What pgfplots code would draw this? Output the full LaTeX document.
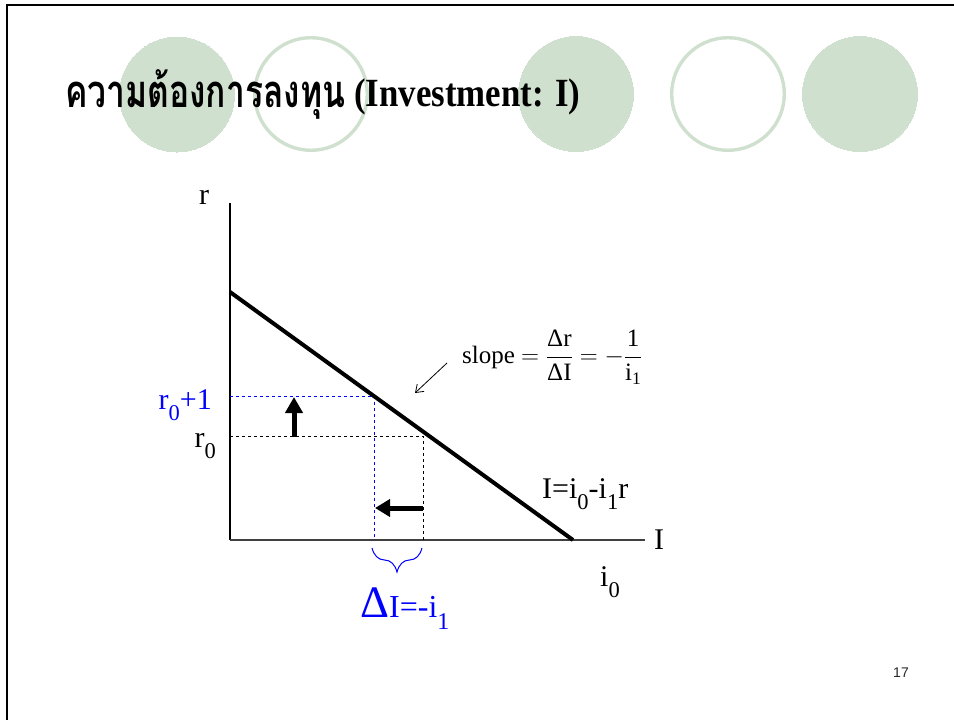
\documentclass[border=0pt]{standalone}
\usepackage{fontspec}
\usepackage{amsmath}
\usepackage{pgfplots}
\pgfplotsset{compat=1.18}
\usetikzlibrary{arrows.meta,decorations.pathreplacing}
\setmainfont{Liberation Serif}
\newfontfamily\thaifont[Script=Thai]{Loma}
\newfontfamily\pagefont{Liberation Sans}
\definecolor{circ}{RGB}{208,224,206}
\definecolor{myblue}{RGB}{0,0,255}
\newcommand{\sub}[1]{\raisebox{-0.38em}{\scalebox{0.75}{#1}}}
\begin{document}
\begin{tikzpicture}
\begin{axis}[
  at={(0,0)}, anchor=south west,
  scale only axis, width=954pt, height=720pt,
  xmin=0, xmax=954, ymin=0, ymax=720,
  y dir=reverse, hide axis, clip=false]
% bounding coordinates
\coordinate (bl) at (axis cs:0,720);
\coordinate (tr) at (axis cs:954,0);
\coordinate (thai) at (axis cs:65,108);
\coordinate (latin) at (axis cs:354,107);
% frame
\addplot[black, line width=2.5pt, line join=miter] coordinates {(7,722) (7,5) (956,5)};
% decorative circles
\addplot[only marks, mark=*, mark size=57.5pt, mark options={draw=circ, fill=circ, line width=0pt}] coordinates {(177,94.5) (576,94) (860,94)};
\addplot[only marks, mark=o, mark size=56.3pt, mark options={draw=circ, line width=3.4pt}] coordinates {(311,94) (728,94)};
% chart axes
\addplot[black, line width=1.3pt] coordinates {(230,203) (230,540)};
\addplot[black!75, line width=1.3pt] coordinates {(230,540) (645,540)};
% dashed guides
\addplot[myblue, line width=0.9pt, dash pattern=on 3pt off 3pt] coordinates {(230,396) (374,396) (374,540)};
\addplot[black, line width=0.9pt, dash pattern=on 3pt off 3pt] coordinates {(230,436) (423,436) (423,540)};
% demand line
\addplot[black, line width=4pt] coordinates {(230,292) (573,540)};
% thick arrows
\addplot[black, line width=5pt, -{Triangle[length=16pt,width=17pt]}] coordinates {(294,437) (294,397)};
\addplot[black, line width=5pt, -{Triangle[length=15pt,width=17pt]}] coordinates {(423,508) (375,508)};
% slope arrow
\addplot[black, line width=0.8pt, -{Straight Barb[length=7pt,width=10pt]}] coordinates {(447,363) (415,393)};
% brace
\addplot[myblue, line width=1pt, decorate, decoration={brace, amplitude=24pt}] coordinates {(422,548) (372,548)};
% labels
\node[anchor=base, inner sep=0pt] at (axis cs:204,204) {\fontsize{30}{32}\selectfont r};
\node[anchor=base west, inner sep=0pt] at (axis cs:654,549) {\fontsize{30}{32}\selectfont I};
\node[anchor=base east, inner sep=0pt, text=myblue] at (axis cs:212,409) {\fontsize{30}{32}\selectfont r\sub{0}+1};
\node[anchor=base east, inner sep=0pt] at (axis cs:216,447) {\fontsize{30}{32}\selectfont r\sub{0}};
\node[anchor=base west, inner sep=0pt] at (axis cs:542,498) {\fontsize{30}{32}\selectfont I=i\sub{0}-i\sub{1}r};
\node[anchor=base west, inner sep=0pt] at (axis cs:600,586) {\fontsize{30}{32}\selectfont i\sub{0}};
\node[anchor=base west, inner sep=0pt, text=myblue] at (axis cs:360,617) {{\fontsize{45}{45}\selectfont Δ}{\fontsize{32}{32}\selectfont I=-i\sub{1}}};
\node[anchor=west, inner sep=0pt] at (axis cs:462,357) {\fontsize{25}{29}\selectfont slope $= \dfrac{\text{Δr}}{\text{ΔI}} = -\dfrac{\text{1}}{\text{i}_{\text{1}}}$};
\node[anchor=center, inner sep=0pt] at (axis cs:901,673) {\pagefont\fontsize{14}{14}\selectfont\color{black!85}17};
\end{axis}
% title above the circles
\node[anchor=base west, inner sep=0pt] at (thai) {\scalebox{1}[1.35]{\resizebox{280pt}{!}{\thaifont\bfseries\fontsize{40}{40}\selectfont ความต้องการลงทุน}}};
\node[anchor=base west, inner sep=0pt] at (latin) {\scalebox{0.87}[1]{\bfseries\fontsize{40}{40}\selectfont (Investment: I)}};
\pgfresetboundingbox
\path (bl) rectangle (tr);
\end{tikzpicture}
\end{document}
